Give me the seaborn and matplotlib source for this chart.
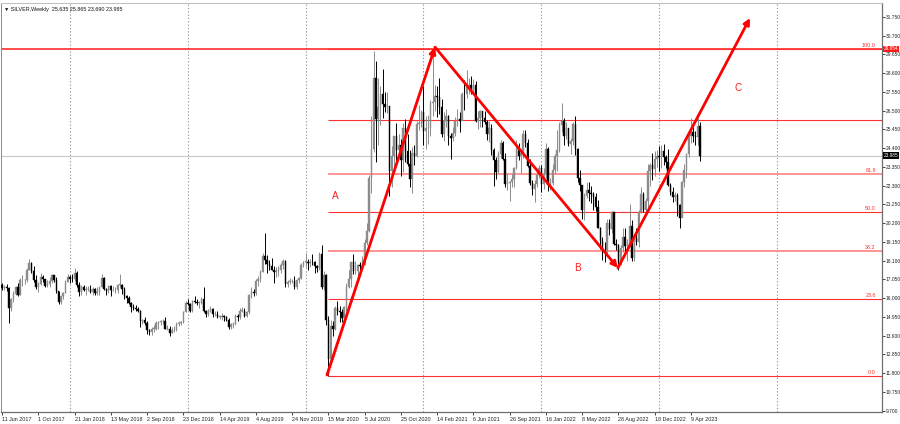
import numpy as np
import pandas as pd
import matplotlib
matplotlib.use("Agg")
import matplotlib.pyplot as plt
import matplotlib.transforms as mtransforms
import seaborn as sns

# ---------------- data (weekly SILVER candles, week 0 = 11 Jun 2017) ----------------
first_open = 16.75
highs = [16.85, 16.75, 16.8, 16.6, 16.0, 16.4, 16.7, 16.85, 17.15, 17.3,
         17.1, 17.7, 18.2, 18.0, 17.8, 17.3, 16.9, 17.4, 17.3, 17.1,
         17.0, 17.2, 17.35, 17.3, 17.2, 16.4, 16.15, 16.35, 17.0, 17.35,
         17.3, 17.35, 17.7, 17.5, 16.9, 16.75, 16.75, 16.7, 16.7, 16.75,
         16.6, 16.55, 16.6, 16.65, 17.35, 17.2, 16.55, 16.75, 16.75, 16.7,
         16.65, 16.8, 17.35, 16.8, 16.6, 16.2, 16.1, 15.8, 15.65, 15.6,
         15.5, 15.35, 14.85, 14.95, 14.7, 14.3, 14.4, 14.5, 14.75, 14.75,
         14.8, 14.85, 14.95, 14.5, 14.45, 14.4, 14.45, 14.65, 14.75, 14.7,
         15.3, 15.85, 15.95, 15.75, 15.9, 16.15, 15.95, 15.85, 16.05, 16.6,
         15.35, 15.4, 15.55, 15.45, 15.3, 15.3, 15.05, 15.15, 15.05, 15.0,
         14.9, 14.6, 14.65, 15.1, 15.1, 15.45, 15.5, 15.45, 15.3, 16.25,
         16.6, 16.5, 17.05, 17.25, 17.6, 18.55, 19.65, 18.4, 18.15, 18.25,
         17.8, 17.75, 17.8, 17.95, 18.2, 18.15, 17.0, 17.15, 17.05, 17.25,
         17.05, 17.2, 17.95, 18.1, 18.55, 18.2, 18.2, 18.45, 18.1, 17.85,
         18.6, 18.95, 17.5, 17.35, 15.0, 14.8, 14.75, 15.55, 15.85, 15.55,
         15.4, 15.55, 16.85, 17.55, 18.05, 18.45, 18.1, 17.9, 18.0, 18.35,
         19.3, 20.2, 22.9, 26.2, 29.85, 29.25, 28.3, 27.9, 28.85, 27.55,
         27.55, 26.75, 24.5, 25.1, 25.8, 25.2, 24.9, 25.8, 26.0, 25.2,
         24.3, 24.45, 24.6, 25.9, 26.8, 26.55, 27.9, 26.2, 26.25, 27.1,
         30.05, 27.95, 27.9, 28.3, 27.15, 26.4, 26.6, 26.25, 25.25, 25.6,
         26.15, 26.6, 26.4, 27.55, 28.2, 28.75, 28.3, 28.45, 28.25, 28.15,
         26.45, 26.55, 26.5, 26.5, 25.95, 25.9, 25.75, 24.4, 23.9, 24.25,
         24.85, 24.8, 24.1, 22.95, 22.55, 22.95, 23.35, 24.85, 24.7, 24.2,
         25.4, 25.4, 24.9, 23.8, 22.6, 22.6, 23.1, 23.45, 23.45, 23.3,
         24.7, 24.45, 22.75, 23.5, 24.05, 25.4, 25.85, 26.95, 26.1, 25.85,
         25.45, 24.95, 25.85, 26.2, 24.4, 23.2, 22.35, 21.9, 22.5, 22.5,
         22.3, 21.95, 21.9, 21.5, 20.0, 19.4, 19.15, 20.45, 20.45, 20.9,
         20.85, 19.3, 19.05, 19.0, 19.95, 19.95, 19.3, 21.25, 20.4, 19.5,
         19.9, 20.95, 22.25, 21.95, 21.6, 23.5, 23.55, 24.15, 24.25, 24.3,
         24.5, 24.55, 24.65, 24.0, 24.35, 22.45, 22.25, 21.95, 21.9, 21.25,
         22.55, 23.5, 24.15, 25.2, 26.1, 25.6, 25.35, 26.1, 25.865]
lows = [16.45, 16.45, 16.4, 14.6, 15.3, 15.8, 16.2, 16.1, 16.2, 16.7,
        16.8, 16.9, 17.6, 17.4, 16.9, 16.5, 16.35, 16.75, 16.9, 16.6,
        16.6, 16.65, 16.85, 16.9, 16.3, 15.65, 15.65, 15.95, 16.3, 16.9,
        16.85, 16.9, 16.95, 16.6, 16.1, 16.2, 16.4, 16.2, 16.4, 16.3,
        16.2, 16.2, 16.2, 16.2, 16.6, 16.45, 16.2, 16.3, 16.1, 16.4,
        16.3, 16.3, 16.6, 16.25, 15.95, 15.75, 15.7, 15.2, 15.35, 15.3,
        15.2, 14.4, 14.55, 14.5, 14.0, 13.95, 13.95, 14.1, 14.2, 14.3,
        14.5, 14.55, 14.25, 14.2, 13.9, 14.05, 14.1, 14.15, 14.45, 14.5,
        14.6, 15.25, 15.6, 15.25, 15.25, 15.75, 15.6, 15.45, 15.7, 15.25,
        14.95, 15.0, 15.2, 14.95, 15.0, 14.9, 14.85, 14.8, 14.75, 14.75,
        14.25, 14.3, 14.35, 14.5, 14.7, 14.85, 15.2, 14.95, 14.95, 15.1,
        16.0, 16.1, 16.2, 16.7, 16.9, 17.45, 17.9, 17.4, 17.6, 17.55,
        16.85, 17.2, 17.25, 17.4, 17.65, 16.6, 16.6, 16.8, 16.85, 16.5,
        16.5, 16.85, 17.1, 17.75, 17.75, 17.55, 17.75, 17.85, 17.4, 17.45,
        17.6, 16.5, 16.45, 14.5, 11.65, 12.4, 13.9, 14.2, 15.05, 14.65,
        14.65, 14.6, 15.3, 16.55, 16.65, 17.35, 17.35, 17.2, 17.45, 17.75,
        17.85, 18.95, 19.7, 21.9, 24.2, 23.6, 24.6, 25.7, 26.1, 26.4,
        26.35, 21.7, 22.2, 23.35, 23.7, 24.05, 22.85, 23.05, 23.6, 23.4,
        22.2, 21.9, 23.45, 23.9, 25.4, 25.6, 24.55, 24.35, 24.65, 25.05,
        26.2, 26.45, 26.15, 26.3, 25.0, 24.8, 25.6, 24.6, 23.8, 24.8,
        25.1, 25.65, 25.3, 25.95, 26.55, 27.2, 27.45, 27.4, 27.45, 25.85,
        25.45, 25.6, 25.6, 25.75, 24.85, 24.75, 24.0, 22.3, 22.65, 23.0,
        23.85, 23.75, 22.2, 22.05, 21.45, 22.2, 22.2, 23.25, 23.75, 23.0,
        23.85, 24.45, 23.35, 22.35, 21.8, 21.4, 22.25, 22.7, 21.95, 22.1,
        22.75, 22.0, 22.05, 22.35, 22.95, 23.1, 24.2, 25.3, 24.55, 24.9,
        24.5, 24.05, 24.6, 24.0, 22.5, 22.0, 20.45, 20.4, 21.6, 21.45,
        21.35, 20.95, 20.9, 19.9, 18.75, 18.15, 18.0, 18.3, 19.55, 19.65,
        19.0, 18.7, 17.55, 17.85, 18.6, 18.55, 18.1, 18.9, 18.1, 18.1,
        19.0, 18.85, 20.75, 20.8, 20.65, 21.0, 22.3, 22.6, 22.85, 23.35,
        23.1, 23.3, 23.45, 23.3, 22.3, 21.8, 21.4, 21.45, 20.6, 19.9,
        20.55, 22.2, 22.75, 23.9, 24.7, 24.75, 24.55, 24.6, 23.69]
closes = [16.55, 16.65, 16.55, 15.45, 15.95, 16.25, 16.65, 16.2, 17.0, 17.0,
          17.0, 17.6, 17.95, 17.5, 17.0, 16.65, 16.8, 17.2, 17.05, 16.7,
          16.8, 16.95, 17.3, 17.0, 16.4, 15.8, 16.1, 16.3, 16.9, 17.2,
          17.1, 17.05, 17.4, 16.75, 16.35, 16.6, 16.45, 16.5, 16.5, 16.35,
          16.5, 16.3, 16.35, 16.6, 17.15, 16.5, 16.4, 16.7, 16.45, 16.45,
          16.45, 16.75, 16.75, 16.5, 16.1, 16.0, 15.75, 15.5, 15.45, 15.4,
          15.3, 14.7, 14.8, 14.6, 14.2, 14.1, 14.3, 14.3, 14.6, 14.65,
          14.7, 14.7, 14.3, 14.3, 14.05, 14.2, 14.2, 14.55, 14.6, 14.65,
          15.25, 15.75, 15.65, 15.3, 15.85, 15.8, 15.75, 15.75, 15.95, 15.3,
          15.1, 15.35, 15.4, 15.1, 15.1, 14.95, 14.95, 15.0, 14.95, 14.8,
          14.4, 14.55, 14.55, 15.0, 14.95, 15.3, 15.3, 15.0, 15.2, 16.2,
          16.35, 16.3, 16.95, 17.1, 17.45, 18.35, 18.15, 17.9, 17.8, 17.6,
          17.45, 17.5, 17.55, 17.85, 18.1, 16.8, 16.9, 16.95, 16.95, 16.6,
          17.0, 17.15, 17.85, 18.05, 18.05, 17.95, 18.05, 18.0, 17.8, 17.7,
          18.45, 16.6, 17.3, 14.8, 12.6, 14.45, 14.3, 15.45, 15.3, 15.2,
          14.9, 15.5, 16.65, 17.1, 18.0, 17.5, 17.5, 17.85, 17.8, 18.1,
          19.1, 19.75, 22.75, 24.35, 28.3, 26.0, 26.7, 27.45, 26.85, 26.7,
          26.75, 23.1, 23.95, 25.05, 24.3, 24.6, 23.75, 25.55, 24.25, 23.5,
          22.65, 24.15, 23.95, 25.75, 25.8, 26.4, 25.35, 25.5, 25.5, 26.9,
          27.0, 27.3, 27.25, 26.7, 25.2, 25.9, 26.2, 25.05, 24.95, 25.25,
          25.9, 26.05, 25.9, 27.45, 27.4, 27.85, 27.95, 27.65, 27.95, 25.9,
          26.1, 26.45, 26.1, 25.85, 25.2, 25.5, 24.3, 23.75, 23.05, 24.05,
          24.7, 23.8, 22.4, 22.45, 22.5, 22.65, 23.3, 24.4, 23.95, 24.15,
          25.2, 24.7, 23.4, 22.45, 22.1, 22.4, 22.9, 23.3, 22.4, 22.95,
          24.35, 22.35, 22.45, 23.2, 23.95, 24.3, 25.7, 25.9, 25.05, 25.5,
          24.65, 24.8, 25.75, 24.35, 22.75, 22.35, 20.95, 21.7, 22.05, 21.9,
          21.85, 21.65, 21.1, 19.95, 19.2, 18.65, 18.6, 20.2, 19.85, 20.8,
          19.05, 19.0, 18.0, 18.8, 19.45, 18.9, 19.0, 20.05, 18.25, 19.35,
          19.15, 20.85, 21.85, 20.95, 21.45, 23.1, 23.45, 23.25, 23.8, 23.95,
          23.9, 24.25, 23.9, 23.6, 22.35, 21.95, 21.65, 21.75, 21.2, 20.5,
          22.5, 23.2, 24.05, 25.05, 25.3, 25.1, 25.0, 25.635, 23.985]

date_labels = ["11 Jun 2017", "1 Oct 2017", "21 Jan 2018", "13 May 2018", "2 Sep 2018",
               "23 Dec 2018", "14 Apr 2019", "4 Aug 2019", "24 Nov 2019", "15 Mar 2020",
               "5 Jul 2020", "25 Oct 2020", "14 Feb 2021", "6 Jun 2021", "26 Sep 2021",
               "16 Jan 2022", "8 May 2022", "28 Aug 2022", "18 Dec 2022", "9 Apr 2023"]
date_label_weeks = [0, 16, 32, 48, 64, 80, 96, 112, 128, 144,
                    160, 176, 192, 208, 224, 240, 256, 272, 288, 304]
year_grid_weeks = [30, 82, 134, 186, 238, 290, 342]
price_ticks = [31.75, 30.70, 29.65, 28.60, 27.55, 26.50, 25.45, 24.40, 23.35, 22.30, 21.25,
               20.20, 19.15, 18.10, 17.05, 16.00, 14.95, 13.90, 12.85, 11.80, 10.75, 9.70]

fib_start_week = 143.9
fib_low = 11.66
fib_high = 29.954
fib_levels = [0.0, 23.6, 38.2, 50.0, 61.8, 100.0]
extra_level = 25.95
current_price = 23.985
header = "\u25bc SILVER,Weekly  25.635 25.865 23.690 23.985"

# wave points (week index, price)
wave_x = [143.4, 191.1, 271.8, 330.1]
wave_y = [11.70, 30.05, 17.69, 31.68]
wave_names = ["A", "B", "C"]
wave_label_x = [147.0, 253.8, 324.8]
wave_label_y = [21.72, 17.69, 27.76]

# ---------------- figure ----------------
sns.set_style("white")
plt.rcParams['font.family'] = ['Liberation Sans', 'DejaVu Sans']

W, H = 900, 424
fig = plt.figure(figsize=(W / 100, H / 100), dpi=100)
ax = fig.add_axes([1 / W, 12 / H, 881 / W, 409 / H])
xmin, xmax = -0.44, 388.35
ax.set_xlim(xmin, xmax)
ax.set_ylim(9.63, 32.52)

df = pd.DataFrame({"week": np.arange(len(closes)), "high": highs, "low": lows, "close": closes})
df["open"] = [first_open] + closes[:-1]
df["up"] = df["close"] >= df["open"]

# grid (yearly, dotted)
for w in year_grid_weeks:
    ax.axvline(w, color="#9a9a9a", lw=0.8, ls=(0, (1.2, 1.8)), zorder=1)

# horizontal reference lines
ax.axhline(current_price, color="#c8c8c8", lw=0.8, zorder=1)
ax.axhline(fib_high, color="#ff1a1a", lw=1.1, zorder=2)
for lv in fib_levels:
    p = fib_low + (fib_high - fib_low) * lv / 100.0
    light = lv in (61.8, 38.2)
    ax.hlines(p, fib_start_week, xmax, color="#ff8c8c" if light else "#ff3030",
              lw=1.3 if light else 0.8, zorder=2)
    ax.text(385.6, p + 0.05, f"{lv:.1f}", color="#ff3030", fontsize=3.9,
            ha="right", va="bottom", zorder=5)
ax.hlines(extra_level, fib_start_week, xmax, color="#ff3030", lw=0.8, zorder=2)

# candles
for up, color in ((True, "#8c8c8c"), (False, "#000000")):
    d = df[df["up"] == up]
    ax.vlines(d["week"], d["low"], d["high"], color=color, lw=0.7, zorder=3)
    bottoms = np.minimum(d["open"], d["close"])
    heights = np.maximum(np.abs(d["close"] - d["open"]), 0.03)
    ax.bar(d["week"], heights, bottom=bottoms, width=0.62, color=color,
           edgecolor=color, lw=0.3, zorder=3)

# dotted fib diagonal (seaborn line)
diag = pd.DataFrame({"x": [fib_start_week, 190.5], "y": [fib_low, fib_high]})
sns.lineplot(data=diag, x="x", y="y", ax=ax, color="#ff3030", lw=0.8,
             linestyle=(0, (1, 1.5)), zorder=4)

# wave arrows
for i in range(3):
    ax.annotate("", xy=(wave_x[i + 1], wave_y[i + 1]), xytext=(wave_x[i], wave_y[i]),
                arrowprops=dict(arrowstyle="-|>", color="#ff0000", lw=2.0,
                                mutation_scale=9, shrinkA=0, shrinkB=0), zorder=6)
    ax.text(wave_label_x[i], wave_label_y[i], wave_names[i], color="#ff2020",
            fontsize=7.2, ha="center", va="center", zorder=6)

# axes cosmetics
ax.set_xlabel("")
ax.set_ylabel("")
ax.yaxis.tick_right()
ax.set_yticks(price_ticks)
ax.set_yticklabels([f"{v:.3f}" for v in price_ticks])
ax.set_xticks(date_label_weeks)
ax.set_xticklabels(date_labels, ha="left")
ax.tick_params(axis="y", which="both", right=True, left=False, length=2.0, width=0.6,
               pad=0.8, labelsize=3.5, colors="#222222")
ax.tick_params(axis="x", which="both", bottom=True, length=2.5, width=0.6,
               pad=1.0, labelsize=3.9, colors="#222222")
for lab in ax.get_xticklabels():
    lab.set_horizontalalignment("left")
for s in ("right", "bottom"):
    ax.spines[s].set_color("#6e6e6e")
    ax.spines[s].set_linewidth(0.9)
ax.spines["left"].set_color("#8a8a8a")
ax.spines["left"].set_linewidth(0.7)
ax.spines["top"].set_color("#bdbdbd")
ax.spines["top"].set_linewidth(0.7)

# price boxes on the right axis
trans = mtransforms.blended_transform_factory(ax.transAxes, ax.transData)
ax.text(1.002, fib_high, "29.954", transform=trans, fontsize=3.4, color="white",
        ha="left", va="center", clip_on=False, zorder=7,
        bbox=dict(boxstyle="square,pad=0.15", fc="#ff1a1a", ec="none"))
ax.text(1.002, current_price, "23.985", transform=trans, fontsize=3.4, color="white",
        ha="left", va="center", clip_on=False, zorder=7,
        bbox=dict(boxstyle="square,pad=0.15", fc="#000000", ec="none"))

# header
fig.text(4 / W, 1 - 9 / H, header, fontsize=3.9, color="#111111", ha="left", va="center")

fig.savefig("out.png", dpi=100)
